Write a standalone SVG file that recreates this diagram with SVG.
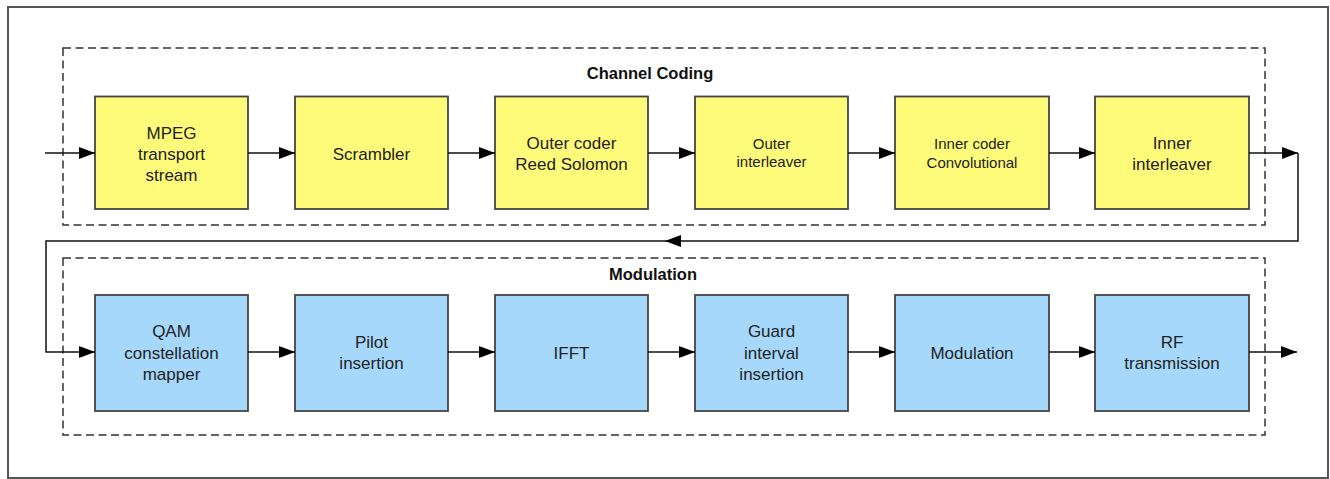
<svg xmlns="http://www.w3.org/2000/svg" width="1330" height="479" viewBox="0 0 1330 479">
<defs>
<style>
.frame{fill:#fff;stroke:#555;stroke-width:2}
.group{fill:none;stroke:#333;stroke-width:1.5;stroke-dasharray:8,4.5}
.title{font-family:"Liberation Sans",Arial,sans-serif;font-weight:bold;font-size:16.5px;fill:#111;text-anchor:middle}
.y{fill:#fffb7a;stroke:#444;stroke-width:1.8}
.b{fill:#a6d8fc;stroke:#444;stroke-width:1.8}
.t{font-family:"Liberation Sans",Arial,sans-serif;font-size:17px;fill:#222;text-anchor:middle}
.s{font-size:15px}
.c{fill:none;stroke:#111;stroke-width:1.5}
</style>
<marker id="ah" markerUnits="userSpaceOnUse" markerWidth="16" markerHeight="12" refX="16" refY="6" orient="auto">
<path d="M0,0 L16,6 L0,12 z" fill="#000"/>
</marker>
</defs>
<rect class="frame" x="8" y="7" width="1320" height="471"/>
<g id="channel-coding">
<rect class="group" x="63" y="48" width="1202" height="177"/>
<text class="title" x="650" y="79">Channel Coding</text>
</g>
<g id="modulation-group">
<rect class="group" x="63" y="258" width="1202" height="177"/>
<text class="title" x="653" y="280">Modulation</text>
</g>
<g id="mpeg"><rect class="y" x="95" y="96.5" width="153" height="112.5"/><text class="t" x="171.5" y="138.5">MPEG</text><text class="t" x="171.5" y="159.5">transport</text><text class="t" x="171.5" y="180.5">stream</text></g>
<g id="scrambler"><rect class="y" x="295" y="96.5" width="153" height="112.5"/><text class="t" x="371.5" y="159.5">Scrambler</text></g>
<g id="outer-coder"><rect class="y" x="495" y="96.5" width="153" height="112.5"/><text class="t" x="571.5" y="149">Outer coder</text><text class="t" x="571.5" y="169.5">Reed Solomon</text></g>
<g id="outer-interleaver"><rect class="y" x="695" y="96.5" width="153" height="112.5"/><text class="t s" x="771.5" y="148.5">Outer</text><text class="t s" x="771.5" y="167">interleaver</text></g>
<g id="inner-coder"><rect class="y" x="895" y="96.5" width="154" height="112.5"/><text class="t s" x="972" y="149">Inner coder</text><text class="t s" x="972" y="167.5">Convolutional</text></g>
<g id="inner-interleaver"><rect class="y" x="1095" y="96.5" width="154" height="112.5"/><text class="t" x="1172" y="149">Inner</text><text class="t" x="1172" y="169.5">interleaver</text></g>
<g id="qam"><rect class="b" x="95" y="295" width="153" height="116"/><text class="t" x="171.5" y="337">QAM</text><text class="t" x="171.5" y="358.5">constellation</text><text class="t" x="171.5" y="380">mapper</text></g>
<g id="pilot"><rect class="b" x="295" y="295" width="153" height="116"/><text class="t" x="371.5" y="348">Pilot</text><text class="t" x="371.5" y="369">insertion</text></g>
<g id="ifft"><rect class="b" x="495" y="295" width="153" height="116"/><text class="t" x="571.5" y="359">IFFT</text></g>
<g id="guard"><rect class="b" x="695" y="295" width="153" height="116"/><text class="t" x="771.5" y="337">Guard</text><text class="t" x="771.5" y="358.5">interval</text><text class="t" x="771.5" y="380">insertion</text></g>
<g id="modulation"><rect class="b" x="895" y="295" width="154" height="116"/><text class="t" x="972" y="359">Modulation</text></g>
<g id="rf"><rect class="b" x="1095" y="295" width="154" height="116"/><text class="t" x="1172" y="348">RF</text><text class="t" x="1172" y="369">transmission</text></g>
<g id="connectors">
<path class="c" d="M45,153 H95" marker-end="url(#ah)"/>
<path class="c" d="M248,153 H295" marker-end="url(#ah)"/>
<path class="c" d="M448,153 H495" marker-end="url(#ah)"/>
<path class="c" d="M648,153 H695" marker-end="url(#ah)"/>
<path class="c" d="M848,153 H895" marker-end="url(#ah)"/>
<path class="c" d="M1049,153 H1095" marker-end="url(#ah)"/>
<path class="c" d="M1249,153 H1298" marker-end="url(#ah)"/>
<path class="c" d="M1298,153 V241 H665" marker-end="url(#ah)"/>
<path class="c" d="M665,241 H46 V352 H95" marker-end="url(#ah)"/>
<path class="c" d="M248,352 H295" marker-end="url(#ah)"/>
<path class="c" d="M448,352 H495" marker-end="url(#ah)"/>
<path class="c" d="M648,352 H695" marker-end="url(#ah)"/>
<path class="c" d="M848,352 H895" marker-end="url(#ah)"/>
<path class="c" d="M1049,352 H1095" marker-end="url(#ah)"/>
<path class="c" d="M1249,352 H1297" marker-end="url(#ah)"/>
</g>
</svg>
